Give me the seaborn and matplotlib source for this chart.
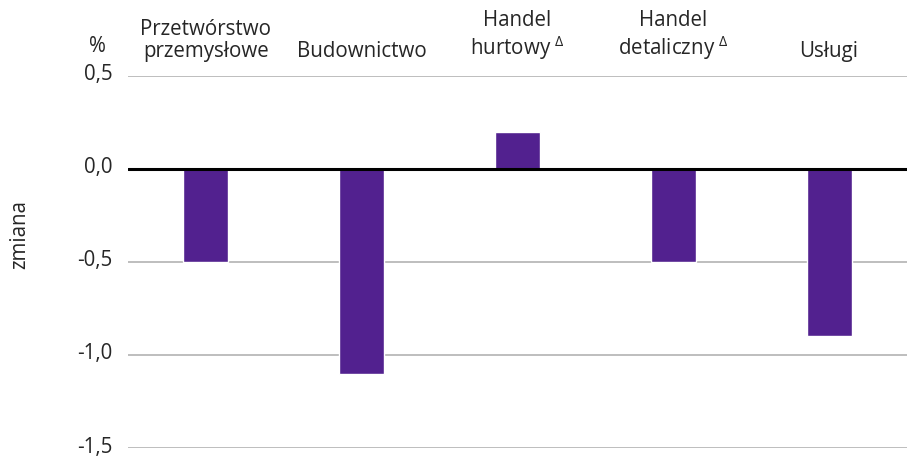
import matplotlib
matplotlib.use("Agg")
import matplotlib.pyplot as plt
import matplotlib.transforms as mtransforms
import seaborn as sns
import pandas as pd

categories = ["Przetwórstwo\nprzemysłowe", "Budownictwo", "Handel\nhurtowy $^{\\mathregular{\\Delta}}$",
              "Handel\ndetaliczny $^{\\mathregular{\\Delta}}$", "Usługi"]
values = [-0.5, -1.1, 0.2, -0.5, -0.9]
yticks = [0.5, 0.0, -0.5, -1.0, -1.5]
ytick_labels = ["0,5", "0,0", "-0,5", "-1,0", "-1,5"]

sns.set_style("white")
plt.rcParams['font.family'] = ['Open Sans', 'DejaVu Sans']
plt.rcParams['mathtext.fontset'] = 'custom'
plt.rcParams['mathtext.rm'] = 'Open Sans'

FS = 14.8

df = pd.DataFrame({"cat": categories, "val": values})

fig = plt.figure(figsize=(9.07, 4.57), dpi=100)
ax = fig.add_axes([128/907, 1-448/457, 1-128/907, (448-76)/457])

sns.barplot(data=df, x="cat", y="val", color="#52218F", saturation=1, width=0.29, ax=ax, zorder=3)

ax.set_ylim(-1.5, 0.5)
ax.set_yticks(yticks)
ax.set_yticklabels(ytick_labels, fontsize=FS)
for y in yticks:
    if y == 0:
        ax.axhline(y, color="black", lw=2.2, zorder=4)
    else:
        ax.axhline(y, color="#B3B3B3", lw=1.2, zorder=1)

ax.xaxis.tick_top()
ax.set_xticks(range(len(categories)))
ax.set_xticklabels(categories, fontsize=FS, linespacing=1.1)
ax.tick_params(axis="x", length=0, pad=10)
ax.tick_params(axis="y", length=0, pad=11)
ax.set_xlabel("")
ax.set_ylabel("")
for s in ax.spines.values():
    s.set_visible(False)

shift = mtransforms.ScaledTranslation(0, 3.5/100, fig.dpi_scale_trans)
for lab in ax.get_yticklabels():
    lab.set_transform(lab.get_transform() + shift)

fig.text(97/907, 1-46/457, "%", fontsize=FS, ha="center", va="center")
fig.text(20/907, 1-235/457, "zmiana", fontsize=FS, rotation=90, ha="center", va="center")

fig.savefig("out.png", dpi=100)
